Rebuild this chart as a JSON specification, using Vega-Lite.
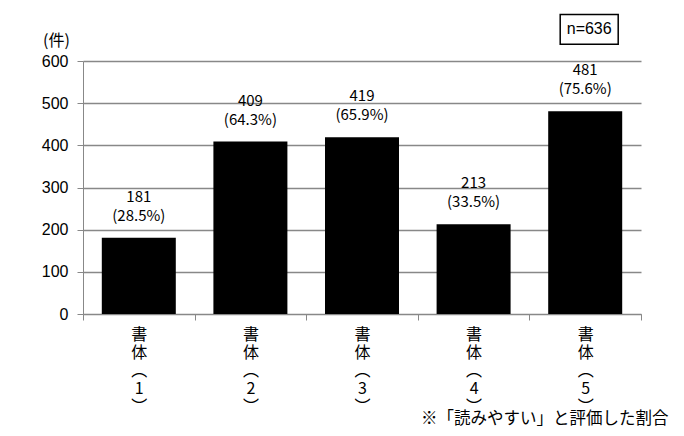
{
  "$schema": "https://vega.github.io/schema/vega-lite/v6.json",
  "width": 558,
  "height": 253,
  "autosize": {"type": "none"},
  "padding": {"left": 83, "top": 61, "right": 43, "bottom": 122},
  "background": "white",
  "config": {"view": {"stroke": null}, "font": "Noto Sans CJK JP"},
  "title": {
    "text": "※「読みやすい」と評価した割合",
    "orient": "bottom",
    "anchor": "end",
    "font": "Noto Sans CJK JP",
    "fontSize": 16.5,
    "fontWeight": "normal",
    "color": "black",
    "offset": -3,
    "dx": 27
  },
  "datasets": {
    "bars": [
      {"category": "書体（1）", "count": 181, "pct": "(28.5%)"},
      {"category": "書体（2）", "count": 409, "pct": "(64.3%)"},
      {"category": "書体（3）", "count": 419, "pct": "(65.9%)"},
      {"category": "書体（4）", "count": 213, "pct": "(33.5%)"},
      {"category": "書体（5）", "count": 481, "pct": "(75.6%)"}
    ],
    "note": [
      {"category": "書体（5）", "low": 640, "high": 710, "mid": 675, "label": "n=636"}
    ]
  },
  "layer": [
    {
      "data": {"name": "bars"},
      "mark": {"type": "bar", "color": "black", "width": 74},
      "encoding": {
        "x": {
          "field": "category",
          "type": "nominal",
          "sort": null,
          "scale": {"paddingInner": 0, "paddingOuter": 0},
          "axis": {
            "title": null,
            "labelAngle": 0,
            "labelExpr": "length(datum.label) > 3 ? ['書','体','︵', slice(datum.label, 3, 4), '︶'] : ''",
            "labelFont": "Noto Sans CJK JP",
            "labelFontSize": 16,
            "labelLineHeight": 18,
            "labelColor": "black",
            "labelPadding": 6,
            "tickBand": "extent",
            "tickSize": 6,
            "tickColor": "#888888",
            "domainColor": "#888888",
            "grid": false
          }
        },
        "y": {
          "field": "count",
          "type": "quantitative",
          "scale": {"domain": [0, 600]},
          "axis": {
            "values": [0, 100, 200, 300, 400, 500, 600],
            "title": "(件)",
            "titleAngle": 0,
            "titleX": -27,
            "titleY": -21,
            "titleAlign": "center",
            "titleBaseline": "middle",
            "titleFont": "Noto Sans CJK JP",
            "titleFontSize": 16,
            "titleFontWeight": "normal",
            "titleColor": "black",
            "labelFont": "Liberation Sans",
            "labelFontSize": 16,
            "labelColor": "black",
            "labelPadding": 9,
            "tickSize": 6,
            "tickColor": "#888888",
            "domainColor": "#888888",
            "gridColor": "#888888",
            "gridWidth": 1.5
          }
        }
      }
    },
    {
      "data": {"name": "bars"},
      "mark": {"type": "text", "baseline": "bottom", "dy": -14, "fontSize": 15, "font": "Noto Sans CJK JP", "color": "black"},
      "encoding": {
        "x": {"field": "category", "type": "nominal", "sort": null},
        "y": {"field": "count", "type": "quantitative"},
        "text": {"field": "pct"}
      }
    },
    {
      "data": {"name": "bars"},
      "mark": {"type": "text", "baseline": "bottom", "dy": -33, "fontSize": 15, "font": "Noto Sans CJK JP", "color": "black"},
      "encoding": {
        "x": {"field": "category", "type": "nominal", "sort": null},
        "y": {"field": "count", "type": "quantitative"},
        "text": {"field": "count"}
      }
    },
    {
      "data": {"name": "note"},
      "mark": {"type": "bar", "fill": "white", "stroke": "black", "strokeWidth": 1.5, "width": 58, "xOffset": 4, "clip": false},
      "encoding": {
        "x": {"field": "category", "type": "nominal", "sort": null},
        "y": {"field": "low", "type": "quantitative"},
        "y2": {"field": "high"}
      }
    },
    {
      "data": {"name": "note"},
      "mark": {"type": "text", "fontSize": 16, "font": "Liberation Sans", "color": "black", "xOffset": 4, "baseline": "middle", "clip": false},
      "encoding": {
        "x": {"field": "category", "type": "nominal", "sort": null},
        "y": {"field": "mid", "type": "quantitative"},
        "text": {"field": "label"}
      }
    }
  ]
}
